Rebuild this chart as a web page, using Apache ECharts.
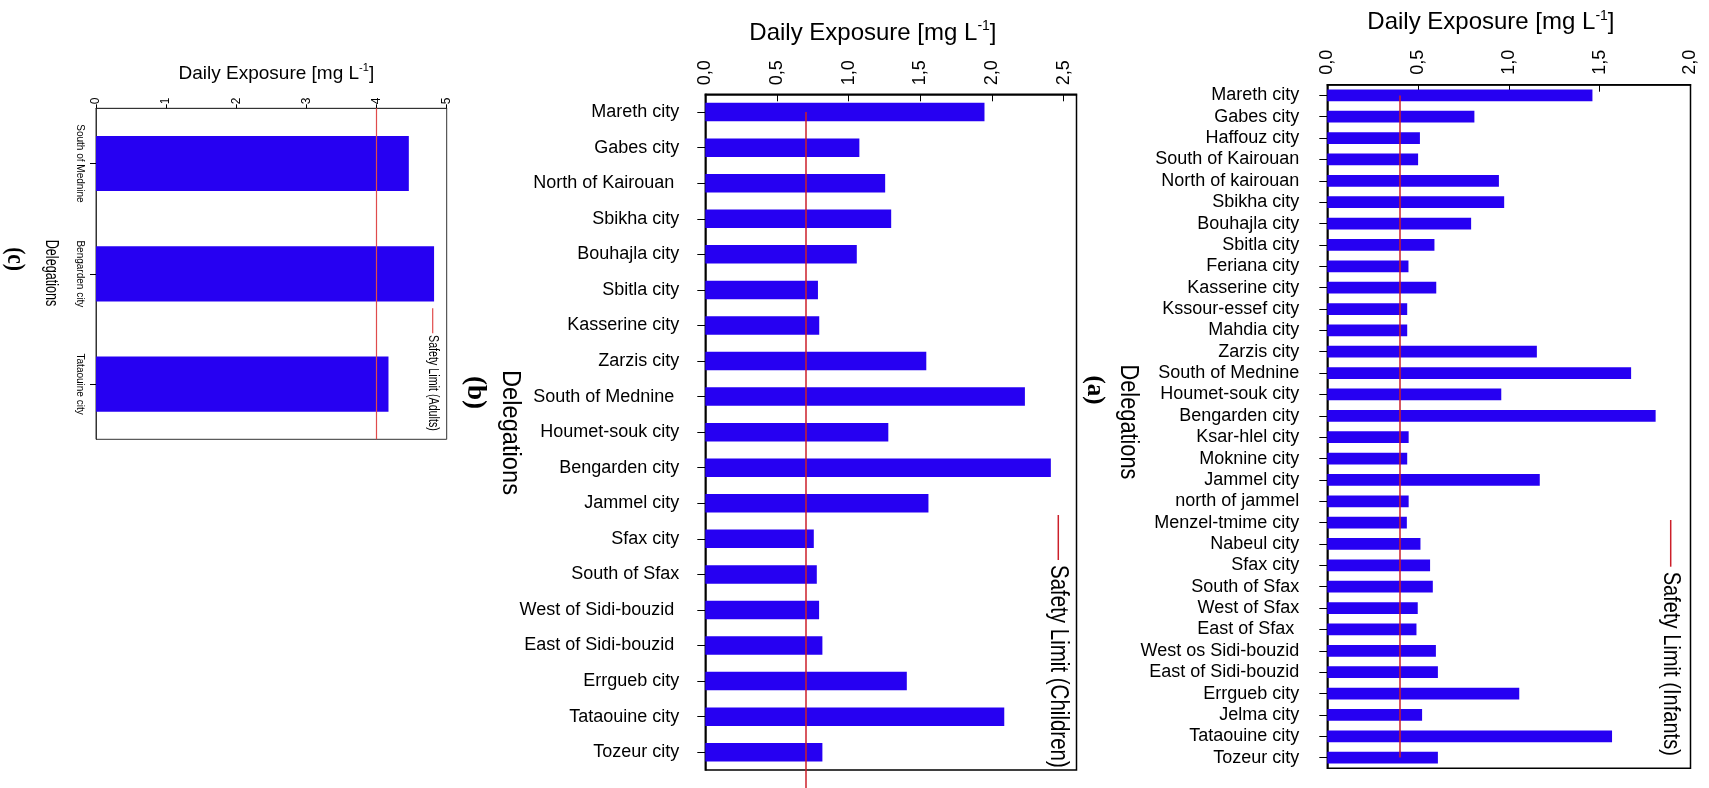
<!DOCTYPE html>
<html>
<head>
<meta charset="utf-8">
<script src="https://cdn.jsdelivr.net/npm/echarts@6/dist/echarts.min.js"></script>
<style>
  html, body { margin: 0; padding: 0; background: #fff; }
  #chart { width: 1709px; height: 788px; }
</style>
</head>
<body>
<div id="chart"></div>
<script>
// ---- data -------------------------------------------------------------
// (a) infants
const catsA = ['Mareth city', 'Gabes city', 'Haffouz city', 'South of Kairouan', 'North of kairouan',
  'Sbikha city', 'Bouhajla city', 'Sbitla city', 'Feriana city', 'Kasserine city', 'Kssour-essef city',
  'Mahdia city', 'Zarzis city', 'South of Mednine', 'Houmet-souk city', 'Bengarden city', 'Ksar-hlel city',
  'Moknine city', 'Jammel city', 'north of jammel', 'Menzel-tmime city', 'Nabeul city', 'Sfax city',
  'South of Sfax', 'West of Sfax', 'East of Sfax ', 'West os Sidi-bouzid', 'East of Sidi-bouzid',
  'Errgueb city', 'Jelma city', 'Tataouine city', 'Tozeur city'];
const valsA = [1.46, 0.81, 0.51, 0.50, 0.945, 0.974, 0.792, 0.59, 0.447, 0.60, 0.44,
  0.44, 1.154, 1.673, 0.958, 1.808, 0.448, 0.44, 1.17, 0.448, 0.438, 0.513, 0.566,
  0.581, 0.498, 0.491, 0.598, 0.609, 1.057, 0.522, 1.568, 0.609];
const LIMIT_A = 0.4;

// (b) children
const catsB = ['Mareth city', 'Gabes city', 'North of Kairouan ', 'Sbikha city', 'Bouhajla city',
  'Sbitla city', 'Kasserine city', 'Zarzis city', 'South of Mednine ', 'Houmet-souk city',
  'Bengarden city', 'Jammel city', 'Sfax city', 'South of Sfax', 'West of Sidi-bouzid ',
  'East of Sidi-bouzid ', 'Errgueb city', 'Tataouine city', 'Tozeur city'];
const valsB = [1.948, 1.075, 1.255, 1.297, 1.057, 0.786, 0.795, 1.542, 2.23, 1.277,
  2.411, 1.557, 0.757, 0.778, 0.794, 0.817, 1.406, 2.086, 0.817];
const LIMIT_B = 0.7;

// (c) adults
const catsC = ['South of Mednine', 'Bengarden city', 'Tataouine city'];
const valsC = [4.46, 4.82, 4.17];
const LIMIT_C = 4;

// value-axis ranges [min, max, step]
const rangeA = [0, 2, 0.5];
const rangeB = [0, 2.59, 0.5];
const rangeC = [0, 5, 1];

const panelLabels = ['(a)', '(b)', '(c)'];
const legendTexts = ['Safety Limit (Infants)', 'Safety Limit (Children)', 'Safety Limit (Adults)'];
const axisTitle = 'Daily Exposure [mg L{sup|-1}]';
const catTitle = 'Delegations';

// ---- styling ----------------------------------------------------------
const SANS = '"Liberation Sans", Arial, sans-serif';
const SERIF = '"Liberation Serif", "Times New Roman", serif';
const BAR = '#2600f2';
const LIMIT_RED = '#cc1f2a';
const LIMIT_RED_C = '#e04b4b';

const onStep = (v, step) => Math.abs(v / step - Math.round(v / step)) < 1e-6;
const commaFmt = step => v => onStep(v, step) ? v.toFixed(1).replace('.', ',') : '';
const intFmt = step => v => onStep(v, step) ? String(Math.round(v)) : '';

function valueAxis(gi, range, o) {
  const supSize = Math.round(o.nameSize * 0.58);
  return {
    gridIndex: gi, type: 'value', position: 'top',
    min: range[0], max: range[1], interval: range[2],
    axisLine: { show: true, lineStyle: { color: o.frame, width: o.frameW } },
    axisTick: { show: true, inside: o.tickInside, length: o.tickLen, lineStyle: { color: '#000', width: 1 } },
    splitLine: { show: false },
    axisLabel: {
      rotate: -90, margin: o.labelMargin, fontSize: o.labelSize, fontFamily: SANS, color: '#000',
      formatter: o.fmt
    },
    name: axisTitle, nameLocation: 'middle', nameGap: o.nameGap,
    nameTextStyle: {
      fontSize: o.nameSize, fontFamily: SANS, color: '#000', lineHeight: o.nameSize + 4,
      padding: o.namePad,
      rich: { sup: { fontSize: supSize, fontFamily: SANS, color: '#000', verticalAlign: 'top', lineHeight: supSize } }
    }
  };
}

function catAxis(gi, cats, o) {
  return {
    gridIndex: gi, type: 'category', data: cats, inverse: true,
    axisLine: { show: true, lineStyle: { color: o.frame, width: o.frameW } },
    axisTick: { show: true, alignWithLabel: true, length: o.tickLen, lineStyle: { color: '#000', width: 1 } },
    axisLabel: {
      interval: 0, margin: o.labelMargin, fontSize: o.labelSize, rotate: o.rotate || 0,
      fontFamily: SANS, color: '#000'
    }
  };
}

function barSeries(i, vals, width, markData, lineColor, lineW) {
  return {
    type: 'bar', xAxisIndex: i, yAxisIndex: i, data: vals, barWidth: width,
    itemStyle: { color: BAR }, emphasis: { disabled: true }, animation: false,
    markLine: {
      silent: true, animation: false, symbol: ['none', 'none'], label: { show: false },
      lineStyle: { color: lineColor, width: lineW, type: 'solid', opacity: 1 },
      emphasis: { disabled: true },
      data: [markData]
    }
  };
}

// text turned a quarter clockwise (reads top to bottom); sx condenses it along its run
function rotatedText(x, y, text, font, align, sx) {
  return {
    type: 'text', x: x, y: y, rotation: -Math.PI / 2, scaleX: sx || 1, silent: true,
    style: { text: text, font: font, fill: '#000', align: align, verticalAlign: 'middle' }
  };
}

function legendMark(x, y1, y2, color, w) {
  return { type: 'line', silent: true, shape: { x1: x, y1: y1, x2: x, y2: y2 },
    style: { stroke: color, lineWidth: w } };
}

const chart = echarts.init(document.getElementById('chart'), null, { renderer: 'canvas' });

const option = {
  backgroundColor: '#fff',
  animation: false,
  grid: [
    { left: 1327.3, top: 84.7, width: 363.2, height: 683.6, show: true, borderColor: '#000', borderWidth: 1.5 },
    { left: 705.3, top: 94.3, width: 371.2, height: 675.7, show: true, borderColor: '#000', borderWidth: 1.5 },
    { left: 96, top: 108.3, width: 350.7, height: 331, show: true, borderColor: '#333', borderWidth: 1 }
  ],
  xAxis: [
    valueAxis(0, rangeA, { frame: '#000', frameW: 1.5, tickInside: true, tickLen: 7, labelMargin: 10,
      labelSize: 18, fmt: commaFmt(rangeA[2]), nameGap: 48, nameSize: 24, namePad: [0, 36, 0, 0] }),
    valueAxis(1, rangeB, { frame: '#000', frameW: 1.5, tickInside: true, tickLen: 7, labelMargin: 9,
      labelSize: 18, fmt: commaFmt(rangeB[2]), nameGap: 47, nameSize: 24, namePad: [0, 36, 0, 0] }),
    valueAxis(2, rangeC, { frame: '#333', frameW: 1, tickInside: false, tickLen: 4, labelMargin: 4,
      labelSize: 12, fmt: intFmt(rangeC[2]), nameGap: 23, nameSize: 19, namePad: [0, 0, 0, 10] })
  ],
  yAxis: [
    catAxis(0, catsA, { frame: '#000', frameW: 1.5, tickLen: 8, labelMargin: 28, labelSize: 18 }),
    catAxis(1, catsB, { frame: '#000', frameW: 1.5, tickLen: 8, labelMargin: 26, labelSize: 18 }),
    catAxis(2, catsC, { frame: '#333', frameW: 1, tickLen: 6, labelMargin: 11, labelSize: 10, rotate: -90 })
  ],
  series: [
    barSeries(0, valsA, '55%', [{ coord: [LIMIT_A, catsA[0]] }, { coord: [LIMIT_A, catsA[catsA.length - 1]] }], LIMIT_RED, 1.5),
    barSeries(1, valsB, '52%', [{ coord: [LIMIT_B, catsB[0]] }, { coord: [LIMIT_B, catsB[catsB.length - 1]] }], LIMIT_RED, 1.5),
    barSeries(2, valsC, '50%', { xAxis: LIMIT_C }, LIMIT_RED_C, 1.2)
  ],
  graphic: [
    // category-axis titles
    rotatedText(1127.7, 422, catTitle, '25px ' + SANS, 'center', 0.87),
    rotatedText(510, 432.5, catTitle, '26px ' + SANS, 'center', 0.91),
    rotatedText(51.4, 273, catTitle, '18px ' + SANS, 'center', 0.7),
    // panel letters
    rotatedText(1094, 390, panelLabels[0], 'bold 25px ' + SERIF, 'center'),
    rotatedText(475.3, 392.5, panelLabels[1], 'bold 27px ' + SERIF, 'center'),
    rotatedText(15, 259, panelLabels[2], 'bold 26px ' + SERIF, 'center', 0.82),
    // limit keys
    legendMark(1670.7, 520, 566.7, LIMIT_RED, 1.5),
    rotatedText(1670.5, 571.7, legendTexts[0], '24.5px ' + SANS, 'left', 0.82),
    legendMark(1058.3, 515, 560, LIMIT_RED, 1.5),
    rotatedText(1058, 565, legendTexts[1], '25px ' + SANS, 'left', 0.82),
    legendMark(432.7, 308.3, 333.3, LIMIT_RED_C, 1.2),
    rotatedText(432.7, 335, legendTexts[2], '15px ' + SANS, 'left', 0.714)
  ]
};

chart.setOption(option);

// the children's limit line continues below the plot down to the page edge
const pB = chart.convertToPixel({ xAxisIndex: 1, yAxisIndex: 1 }, [LIMIT_B, 0]);
chart.setOption({
  series: [{}, { markLine: { data: [[{ coord: [LIMIT_B, catsB[0]] }, { x: pB[0], y: 788 }]] } }, {}]
});
</script>
</body>
</html>
